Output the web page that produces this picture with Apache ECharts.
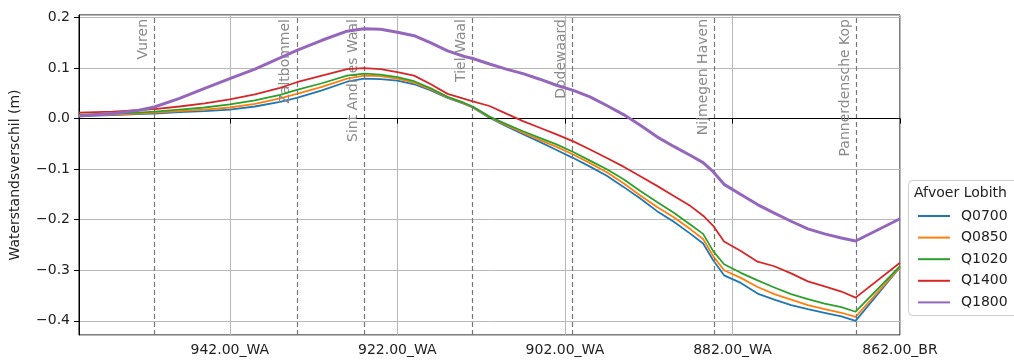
<!DOCTYPE html>
<html>
<head>
<meta charset="utf-8">
<script src="https://cdn.jsdelivr.net/npm/echarts@6/dist/echarts.min.js"></script>
<style>
html,body{margin:0;padding:0;background:#fff;}
#chart{width:1014px;height:360px;}
</style>
</head>
<body>
<div id="chart"></div>
<script>
// River km (reversed axis: upstream Lobith on the right)
const km = [960, 956, 953, 951, 948, 945, 942, 939, 936, 934, 931, 928, 926, 924, 922, 920, 918, 916, 914, 913, 911, 909, 907, 905, 903, 901, 899, 897, 895, 893, 891, 889, 887, 885.5, 884.3, 883, 881, 879, 877, 875, 873, 871, 869, 867.3, 862];

const q0700 = [0.005, 0.007, 0.009, 0.010, 0.013, 0.015, 0.018, 0.024, 0.033, 0.041, 0.056, 0.073, 0.079, 0.078, 0.075, 0.068, 0.056, 0.041, 0.029, 0.022, 0.002, -0.015, -0.031, -0.046, -0.062, -0.078, -0.095, -0.113, -0.135, -0.158, -0.183, -0.204, -0.228, -0.247, -0.280, -0.310, -0.325, -0.346, -0.358, -0.369, -0.377, -0.384, -0.391, -0.400, -0.294];
const q0850 = [0.006, 0.008, 0.010, 0.012, 0.015, 0.018, 0.022, 0.029, 0.040, 0.049, 0.063, 0.079, 0.085, 0.084, 0.079, 0.071, 0.058, 0.042, 0.030, 0.023, 0.003, -0.013, -0.028, -0.042, -0.056, -0.071, -0.088, -0.106, -0.128, -0.152, -0.175, -0.195, -0.219, -0.238, -0.272, -0.300, -0.315, -0.333, -0.347, -0.358, -0.369, -0.377, -0.384, -0.392, -0.294];
const q1020 = [0.008, 0.010, 0.012, 0.014, 0.018, 0.022, 0.028, 0.036, 0.047, 0.057, 0.070, 0.085, 0.089, 0.087, 0.082, 0.074, 0.060, 0.043, 0.031, 0.024, 0.004, -0.011, -0.025, -0.038, -0.051, -0.066, -0.083, -0.100, -0.120, -0.143, -0.165, -0.186, -0.210, -0.228, -0.262, -0.288, -0.305, -0.320, -0.334, -0.347, -0.357, -0.366, -0.373, -0.382, -0.292];
const q1400 = [0.012, 0.014, 0.017, 0.019, 0.024, 0.030, 0.038, 0.048, 0.061, 0.072, 0.085, 0.098, 0.100, 0.098, 0.092, 0.085, 0.068, 0.049, 0.039, 0.034, 0.025, 0.010, -0.005, -0.018, -0.031, -0.045, -0.061, -0.078, -0.095, -0.114, -0.133, -0.153, -0.173, -0.192, -0.212, -0.243, -0.262, -0.283, -0.292, -0.306, -0.322, -0.332, -0.342, -0.354, -0.285];
const q1800 = [0.005, 0.010, 0.016, 0.023, 0.040, 0.060, 0.079, 0.098, 0.120, 0.135, 0.155, 0.173, 0.178, 0.177, 0.171, 0.164, 0.150, 0.134, 0.123, 0.119, 0.108, 0.098, 0.089, 0.078, 0.066, 0.056, 0.043, 0.026, 0.008, -0.013, -0.036, -0.055, -0.073, -0.087, -0.105, -0.130, -0.150, -0.170, -0.187, -0.203, -0.218, -0.228, -0.236, -0.242, -0.198];

const seriesNames = ['Q0700', 'Q0850', 'Q1020', 'Q1400', 'Q1800'];
const seriesColors = ['#1f77b4', '#ff7f0e', '#2ca02c', '#d62728', '#9467bd'];

// Locations along the river
const locNames = ['Vuren', 'Zaltbommel', 'Sint Andries Waal', 'Tiel Waal', 'Dodewaard', 'Nijmegen Haven', 'Pannerdensche Kop', 'Lobith'];
const locKm = [951, 934, 925.9, 913, 901.1, 884.2, 867.2, 862];

// X tick labels
const xTickKm = [942, 922, 902, 882, 862];
const xTickLabels = ['942.00_WA', '922.00_WA', '902.00_WA', '882.00_WA', '862.00_BR'];

const FONT = 'DejaVu Sans';
const chart = echarts.init(document.getElementById('chart'), null, {renderer: 'canvas'});

const allData = [q0700, q0850, q1020, q1400, q1800];
const series = allData.map((vals, i) => ({
  name: seriesNames[i],
  type: 'line',
  symbol: 'none',
  smooth: false,
  data: km.map((k, j) => [k, vals[j]]),
  lineStyle: {color: seriesColors[i], width: i === 4 ? 3 : 1.8},
  itemStyle: {color: seriesColors[i]},
  z: 3 + i
}));

const markData = locKm.map((k, i) => ({
  xAxis: k,
  name: locNames[i],
  lineStyle: i === locKm.length - 1 ? {opacity: 0} : undefined
}));
markData.push({
  yAxis: 0,
  name: '',
  lineStyle: {color: '#000', type: 'solid', width: 1.2},
  label: {show: false}
});

series[0].markLine = {
  silent: true,
  symbol: ['none', 'none'],
  animation: false,
  lineStyle: {color: '#777', type: [5, 3], width: 1.2},
  label: {
    show: true,
    position: 'insideEndTop',
    formatter: '{b}',
    color: '#8a8a8a',
    fontFamily: FONT,
    fontSize: 14,
    distance: 4
  },
  data: markData
};

const option = {
  animation: false,
  textStyle: {fontFamily: FONT},
  grid: {left: 79, right: 114, top: 15, bottom: 25, show: true, borderColor: '#000', borderWidth: 1, backgroundColor: 'transparent'},
  title: {
    text: 'Afvoer Lobith',
    left: 914, top: 186, padding: 0,
    textStyle: {fontFamily: FONT, fontSize: 14, fontWeight: 'normal', color: '#222'}
  },
  legend: {
    orient: 'vertical',
    left: 917, top: 209, padding: 0,
    itemWidth: 32, itemHeight: 14, itemGap: 7.6,
    data: seriesNames,
    itemStyle: {opacity: 0},
    textStyle: {fontFamily: FONT, fontSize: 14, color: '#222', padding: [0, 0, 0, 6]}
  },
  graphic: [{
    type: 'rect', z: -1, silent: true,
    shape: {x: 908.5, y: 180.5, width: 130, height: 135, r: 4},
    style: {fill: '#fff', stroke: '#cccccc', lineWidth: 1}
  }],
  xAxis: {
    type: 'value',
    inverse: true,
    min: 862, max: 960, interval: 20,
    axisLine: {show: true, lineStyle: {color: '#000', width: 1}},
    axisTick: {show: true, length: 5, lineStyle: {color: '#000'}},
    axisLabel: {
      showMaxLabel: false,
      margin: 8,
      fontFamily: FONT, fontSize: 14, color: '#222',
      formatter: v => { const i = xTickKm.indexOf(Math.round(v)); return i >= 0 ? xTickLabels[i] : ''; }
    },
    splitLine: {show: true, lineStyle: {color: '#b8b8b8', width: 1}}
  },
  yAxis: {
    type: 'value',
    min: -0.428, max: 0.205,
    splitNumber: 6,
    name: 'Waterstandsverschil (m)',
    nameLocation: 'middle',
    nameGap: 57,
    nameRotate: 90,
    nameTextStyle: {fontFamily: FONT, fontSize: 14, color: '#222'},
    axisLine: {show: true, lineStyle: {color: '#000', width: 1}},
    axisTick: {show: true, length: 5, lineStyle: {color: '#000'}},
    axisLabel: {
      showMinLabel: false, showMaxLabel: false,
      margin: 9,
      fontFamily: FONT, fontSize: 14, color: '#222',
      formatter: v => Math.abs(v) < 1e-9 ? '0.0' : (v < 0 ? '\u2212' : '') + Math.abs(v).toFixed(1)
    },
    splitLine: {show: true, lineStyle: {color: '#b8b8b8', width: 1}}
  },
  series: series
};
chart.setOption(option);
</script>
</body>
</html>
